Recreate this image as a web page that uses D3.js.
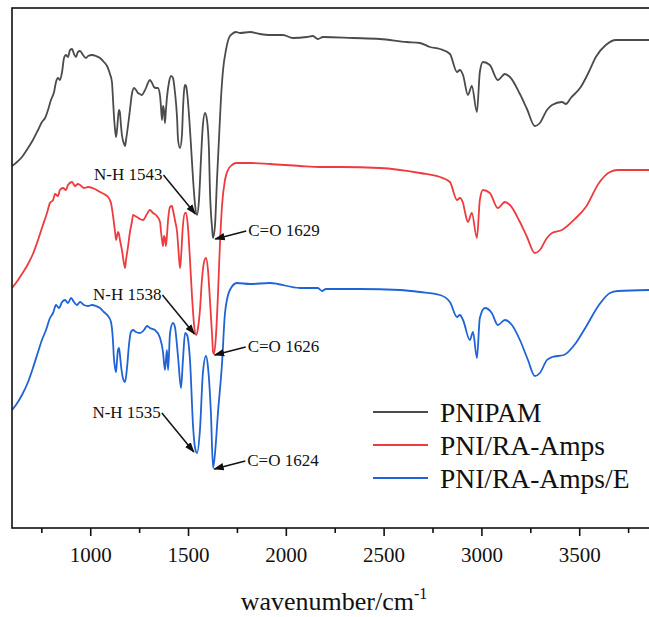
<!DOCTYPE html>
<html lang="en">
<head>
<meta charset="UTF-8">
<title>FTIR spectra</title>
<script src="https://d3js.org/d3.v7.min.js"></script>
<style>
  body { margin: 0; background: #fff; }
  svg { display: block; font-family: "Liberation Serif", "Times New Roman", serif; }
</style>
</head>
<body>
<div id="chart"></div>
<script>
// spectra: [wavenumber, transmittance (a.u., stacked)]
const pnipam = [
  [600,362],[620,365],[651,371],[682,380],[707,388],[733,398],[753,406],[769,410],[784,418],[799,428],
  [815,436],[825,446],[835,450],[845,448],[856,456],[866,470],[876,473],[886,471],[897,478],[907,479],
  [917,474],[927,471],[937,476],[948,477],[963,473],[978,470],[989,472],[1009,473],[1029,472],[1050,470],
  [1070,466],[1086,462],[1101,454],[1111,446],[1116,430],[1121,413],[1127,398],[1132,391],[1137,398],[1142,410],
  [1147,418],[1152,415],[1157,403],[1162,393],[1173,384],[1178,382],[1183,388],[1193,402],[1203,418],[1213,434],
  [1224,440],[1234,438],[1244,435],[1254,434],[1264,433],[1275,436],[1285,440],[1295,445],[1305,448],[1316,445],
  [1326,441],[1336,440],[1346,440],[1357,432],[1362,420],[1367,408],[1372,422],[1377,418],[1382,405],[1387,418],
  [1392,430],[1403,446],[1413,452],[1423,450],[1433,436],[1444,410],[1449,388],[1459,380],[1469,393],[1474,418],
  [1480,438],[1485,443],[1490,442],[1495,436],[1505,413],[1515,383],[1526,348],[1536,323],[1546,313],[1556,328],
  [1566,368],[1576,403],[1587,415],[1597,408],[1607,378],[1612,338],[1623,300],[1628,290],[1638,303],[1648,348],
  [1658,388],[1668,428],[1679,458],[1694,478],[1709,490],[1725,494],[1745,496],[1766,495],[1817,496],[1868,494],
  [1919,493],[1985,493],[2036,490],[2107,491],[2138,492],[2164,489],[2190,491],[2343,490],[2481,489],[2619,486],
  [2686,485],[2737,481],[2788,479],[2839,474],[2875,456],[2890,458],[2906,453],[2931,433],[2951,442],[2977,416],
  [2992,456],[3008,466],[3043,463],[3084,448],[3120,454],[3146,451],[3197,434],[3233,419],[3273,402],[3299,405],
  [3335,418],[3361,423],[3412,426],[3432,424],[3457,430],[3508,441],[3549,456],[3585,471],[3636,483],[3688,488],
  [3860,488]
];

const pniRaAmps = [
  [600,240],[620,245],[651,254],[682,264],[707,274],[733,288],[753,300],[779,315],[794,325],[810,328],
  [820,334],[835,332],[845,338],[861,340],[876,338],[886,343],[907,346],[922,342],[937,344],[948,343],
  [968,340],[989,341],[1024,339],[1050,336],[1070,334],[1091,331],[1106,325],[1116,313],[1127,296],[1132,288],
  [1137,292],[1142,296],[1147,294],[1152,288],[1162,278],[1173,264],[1178,260],[1183,268],[1193,281],[1203,296],
  [1213,306],[1219,313],[1229,312],[1239,311],[1254,309],[1270,308],[1290,314],[1305,318],[1321,315],[1336,313],
  [1357,306],[1362,296],[1367,288],[1372,282],[1377,292],[1382,290],[1387,282],[1392,292],[1398,308],[1408,321],
  [1418,322],[1423,318],[1433,308],[1444,296],[1454,270],[1459,260],[1464,270],[1474,303],[1485,315],[1490,315],
  [1500,300],[1510,268],[1520,233],[1531,203],[1541,193],[1551,200],[1561,218],[1571,248],[1582,266],[1592,270],
  [1602,258],[1612,228],[1623,193],[1628,176],[1633,174],[1643,193],[1653,233],[1663,283],[1674,323],[1689,348],
  [1704,358],[1725,363],[1745,365],[1817,365],[1919,364],[2072,362],[2175,361],[2277,361],[2481,360],[2686,355],
  [2788,351],[2839,346],[2875,328],[2890,330],[2906,325],[2916,316],[2931,306],[2951,315],[2977,290],[2992,328],
  [3008,338],[3043,335],[3084,320],[3120,326],[3146,323],[3197,306],[3233,291],[3273,275],[3299,278],[3335,290],
  [3361,295],[3412,298],[3483,310],[3534,321],[3601,345],[3657,356],[3698,358],[3860,358]
];

const pniRaAmpsE = [
  [600,118],[620,123],[651,133],[682,146],[707,160],[733,176],[753,188],[774,198],[794,210],[810,215],
  [825,223],[840,220],[856,226],[871,228],[886,225],[902,230],[917,226],[932,223],[948,226],[968,223],
  [989,222],[1009,223],[1029,222],[1050,220],[1070,216],[1091,212],[1106,206],[1116,188],[1121,170],[1127,160],
  [1132,156],[1137,168],[1142,178],[1147,180],[1152,173],[1157,163],[1167,150],[1178,146],[1188,160],[1198,183],
  [1208,196],[1219,198],[1234,196],[1254,195],[1275,198],[1290,202],[1305,200],[1331,198],[1357,190],[1372,176],
  [1382,158],[1392,178],[1398,158],[1408,195],[1423,205],[1433,201],[1449,171],[1464,140],[1474,168],[1485,195],
  [1495,193],[1510,168],[1526,101],[1536,80],[1546,75],[1561,98],[1576,155],[1592,172],[1602,161],[1617,115],
  [1628,60],[1638,75],[1653,115],[1674,165],[1689,215],[1714,238],[1750,245],[1817,244],[1919,245],[2072,240],
  [2164,240],[2185,237],[2205,239],[2379,239],[2583,238],[2686,236],[2788,233],[2839,226],[2875,211],[2890,213],
  [2906,208],[2941,188],[2957,196],[2977,170],[2992,210],[3018,220],[3053,215],[3084,203],[3120,208],[3156,203],
  [3197,188],[3238,168],[3273,152],[3299,155],[3335,168],[3361,171],[3422,173],[3483,185],[3534,201],[3601,223],
  [3657,235],[3698,237],[3860,238]
];

const seriesNames = ["PNIPAM", "PNI/RA-Amps", "PNI/RA-Amps/E"];
const seriesColors = ["#4b4b4b", "#ee3b3f", "#1f63d6"];

const peakLabels = ["N-H 1543", "C=O 1629", "N-H 1538", "C=O 1626", "N-H 1535", "C=O 1624"];
const peakWn = [1543, 1629, 1538, 1626, 1535, 1624];
const peakT = [313, 290, 193, 174, 75, 60];

const majorTicks = [1000, 1500, 2000, 2500, 3000, 3500];
const minorTicks = [750, 1250, 1750, 2250, 2750, 3250, 3750];

const W = 649, H = 617;
const mLeft = 12, mTop = 8, mBottom = 528, mRight = 677;

const svg = d3.select("#chart").append("svg").attr("width", W).attr("height", H);

const x = d3.scaleLinear().domain([600, 4000]).range([mLeft, mRight]);
const y = d3.scaleLinear().domain([0, 520]).range([mBottom, mTop]);

svg.append("clipPath").attr("id", "plot")
  .append("rect").attr("x", mLeft).attr("y", mTop).attr("width", mRight - mLeft).attr("height", mBottom - mTop);

const line = d3.line().x(d => x(d[0])).y(d => y(d[1])).curve(d3.curveMonotoneX);

const g = svg.append("g").attr("clip-path", "url(#plot)");
[pnipam, pniRaAmps, pniRaAmpsE].forEach((s, i) => {
  g.append("path").datum(s)
    .attr("d", line)
    .attr("fill", "none")
    .attr("stroke", seriesColors[i])
    .attr("stroke-width", 1.8)
    .attr("stroke-linejoin", "round");
});

// frame
svg.append("rect")
  .attr("x", mLeft).attr("y", mTop).attr("width", mRight - mLeft).attr("height", mBottom - mTop)
  .attr("fill", "none").attr("stroke", "#111").attr("stroke-width", 1.6);

// x axis
const xAxis = svg.append("g").attr("transform", `translate(0,${mBottom})`)
  .call(d3.axisBottom(x).tickValues(majorTicks).tickSize(8).tickPadding(11).tickFormat(d3.format("d")));
xAxis.select(".domain").remove();
xAxis.selectAll("line").attr("stroke", "#111").attr("stroke-width", 1.6);
xAxis.selectAll("text").attr("font-size", 21).attr("fill", "#111")
  .attr("font-family", "Liberation Serif, serif");

const xMinor = svg.append("g").attr("transform", `translate(0,${mBottom})`)
  .call(d3.axisBottom(x).tickValues(minorTicks).tickSize(5).tickFormat(""));
xMinor.select(".domain").remove();
xMinor.selectAll("line").attr("stroke", "#111").attr("stroke-width", 1.6);

const title = svg.append("text")
  .attr("x", 334).attr("y", 610)
  .attr("text-anchor", "middle")
  .attr("font-size", 26).attr("fill", "#111");
title.append("tspan").text("wavenumber/cm");
title.append("tspan").attr("font-size", 16).attr("dy", -11).text("-1");

// peak annotations
svg.append("defs").append("marker")
  .attr("id", "arrow").attr("viewBox", "0 0 10 10")
  .attr("refX", 9).attr("refY", 5)
  .attr("markerWidth", 7).attr("markerHeight", 7)
  .attr("orient", "auto-start-reverse")
  .append("path").attr("d", "M0,1.5 L10,5 L0,8.5 Z").attr("fill", "#111");

peakLabels.forEach((lab, i) => {
  const px = x(peakWn[i]), py = y(peakT[i]);
  const nh = lab.startsWith("N-H");
  const sx = nh ? px - 33 : px + 33;
  const sy = nh ? py - 40 : py - 7;
  svg.append("line")
    .attr("x1", sx).attr("y1", sy)
    .attr("x2", nh ? px - 1 : px + 2).attr("y2", nh ? py - 1 : py + 1)
    .attr("stroke", "#111").attr("stroke-width", 1.5)
    .attr("marker-end", "url(#arrow)");
  svg.append("text")
    .attr("x", nh ? sx - 1 : sx + 2).attr("y", sy + 1)
    .attr("text-anchor", nh ? "end" : "start")
    .attr("dominant-baseline", "middle")
    .attr("font-size", 17).attr("fill", "#111")
    .text(lab);
});

// legend
const legend = svg.append("g").attr("transform", "translate(373,412)");
seriesNames.forEach((name, i) => {
  const row = legend.append("g").attr("transform", `translate(0,${i * 33})`);
  row.append("line").attr("x1", 0).attr("x2", 55).attr("y1", 0).attr("y2", 0)
    .attr("stroke", seriesColors[i]).attr("stroke-width", 2);
  row.append("text").attr("x", 67).attr("y", 9.5)
    .attr("font-size", 27.5).attr("fill", "#111").text(name);
});
</script>
</body>
</html>
